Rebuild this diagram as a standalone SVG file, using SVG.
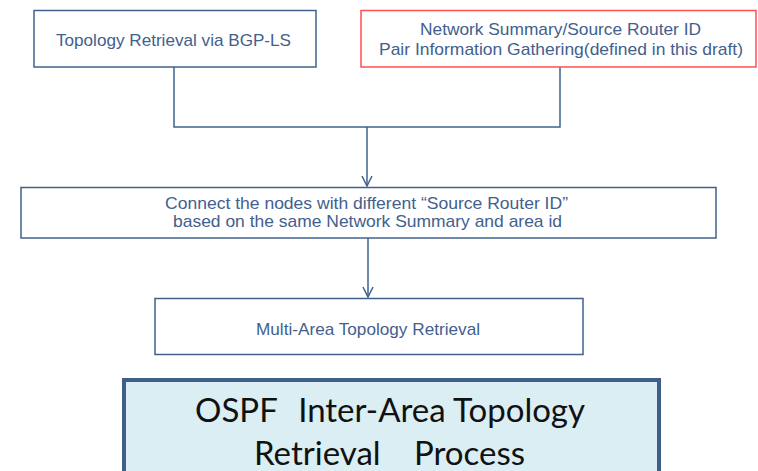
<svg xmlns="http://www.w3.org/2000/svg" width="758" height="471" viewBox="0 0 758 471">
<defs>
<marker id="arr" viewBox="0 0 12 12" refX="11" refY="6" markerWidth="12" markerHeight="12" markerUnits="userSpaceOnUse" orient="auto">
<path d="M1,1 L11,6 L1,11" fill="none" stroke="#41618C" stroke-width="1.5"/>
</marker>
<style>
.box{fill:#fff;stroke:#41618C;stroke-width:1.5}
.red{fill:#fff;stroke:#FF4F4F;stroke-width:1.5}
.t{font-family:"Liberation Sans",Arial,sans-serif;font-size:17px;fill:#42608E}
.big{font-family:Lato,"Open Sans",sans-serif;font-size:33px;fill:#111}
.ln{fill:none;stroke:#41618C;stroke-width:1.5}
</style>
</defs>
<rect width="758" height="471" fill="#fff"/>
<g id="connectors">
<polyline class="ln" points="174,67 174,127 560,127 560,67"/>
<line class="ln" x1="367" y1="127" x2="367" y2="186" marker-end="url(#arr)"/>
<line class="ln" x1="368" y1="238" x2="368" y2="297" marker-end="url(#arr)"/>
</g>
<g id="n1">
<rect class="box" x="34" y="10.5" width="282" height="56.5"/>
<text class="t" x="56" y="46" textLength="235" lengthAdjust="spacingAndGlyphs">Topology Retrieval via BGP-LS</text>
</g>
<g id="n2">
<rect class="red" x="361" y="10.5" width="395" height="56.5"/>
<text class="t" x="420" y="35" textLength="281" lengthAdjust="spacingAndGlyphs">Network Summary/Source Router ID</text>
<text class="t" x="379" y="55" textLength="364" lengthAdjust="spacingAndGlyphs">Pair Information Gathering(defined in this draft)</text>
</g>
<g id="n3">
<rect class="box" x="21" y="187.5" width="695" height="50.5"/>
<text class="t" x="165" y="209" textLength="403" lengthAdjust="spacingAndGlyphs">Connect the nodes with different “Source Router ID”</text>
<text class="t" x="173" y="227" textLength="389" lengthAdjust="spacingAndGlyphs">based on the same Network Summary and area id</text>
</g>
<g id="n4">
<rect class="box" x="155" y="298.5" width="428" height="56"/>
<text class="t" x="256" y="335" textLength="224" lengthAdjust="spacingAndGlyphs">Multi-Area Topology Retrieval</text>
</g>
<g id="title">
<rect x="124" y="380" width="535" height="100" fill="#DAEEF3" stroke="#3F5F8A" stroke-width="4"/>
<text class="big" y="422"><tspan x="195">OSPF</tspan><tspan x="585" text-anchor="end">Inter-Area Topology</tspan></text>
<text class="big" y="465"><tspan x="254">Retrieval</tspan><tspan x="525" text-anchor="end">Process</tspan></text>
</g>
</svg>
